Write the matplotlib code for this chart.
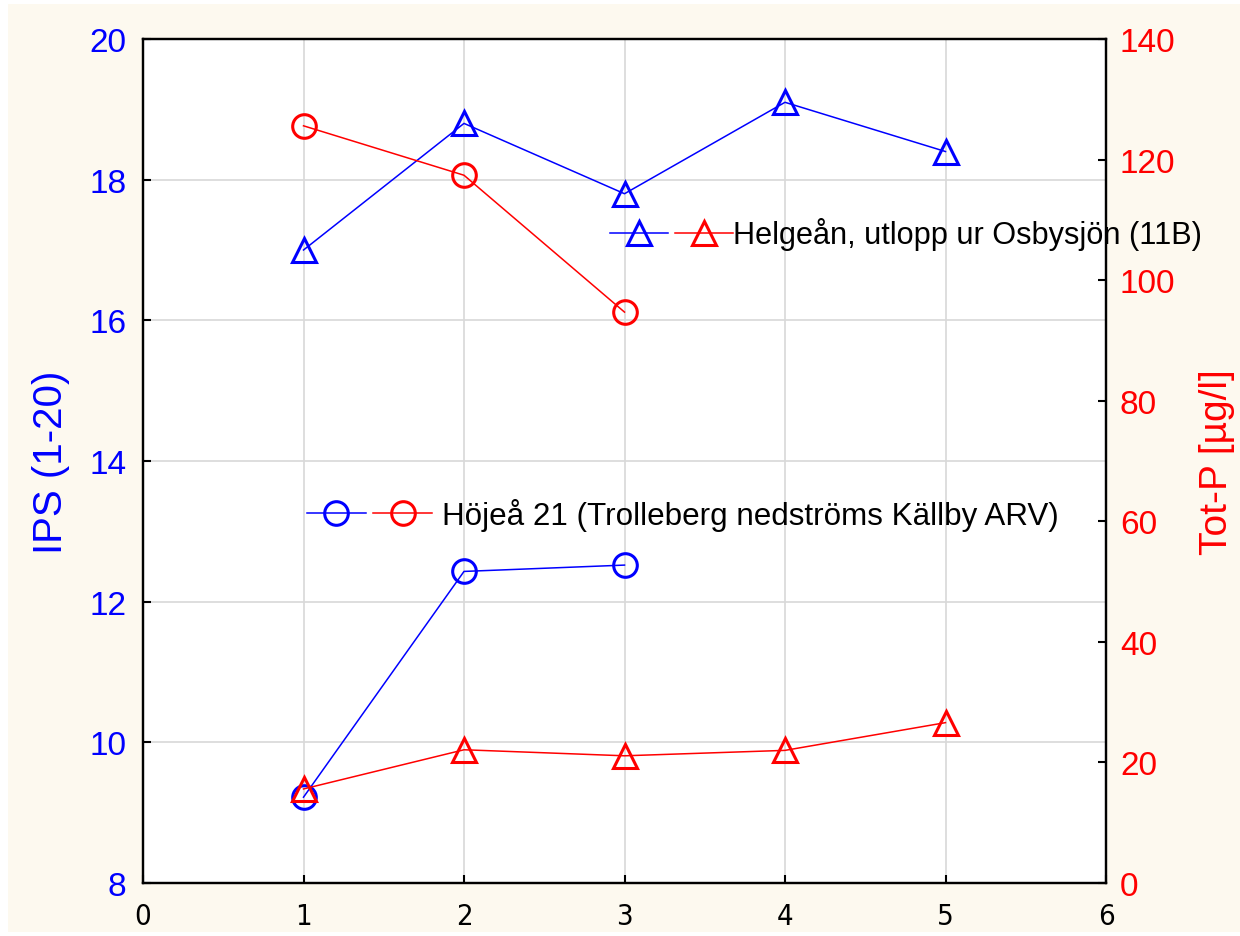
import matplotlib
matplotlib.use('Agg')
import matplotlib.pyplot as plt
from matplotlib.patches import Rectangle
from matplotlib.legend_handler import HandlerTuple

plt.rcParams['font.family'] = ['Liberation Sans', 'DejaVu Sans']

# data
x_helge = [1, 2, 3, 4, 5]
ips_helge = [17.0, 18.8, 17.8, 19.1, 18.4]
totp_helge = [15.6, 22.1, 21.1, 22.0, 26.6]

x_hoje = [1, 2, 3]
ips_hoje = [9.22, 12.43, 12.52]
totp_hoje = [125.6, 117.4, 94.7]

label_helge = 'Helgeån, utlopp ur Osbysjön (11B)'
label_hoje = 'Höjeå 21 (Trolleberg nedströms Källby ARV)'

fig = plt.figure(figsize=(12.4, 9.37), dpi=100, facecolor='white')
fig.patches.append(Rectangle((8 / 1240, 4 / 937), 1 - 8 / 1240, 1 - 9 / 937,
                             transform=fig.transFigure, facecolor='#fdf9ef',
                             edgecolor='none', zorder=-10))
ax1 = fig.add_axes([143 / 1240, 53 / 937, 963 / 1240, 844 / 937])
ax2 = ax1.twinx()

ms = 17
lw = 1.1
b1, = ax1.plot(x_helge, ips_helge, color='blue', lw=lw, marker='^', ms=ms,
               mfc='none', mew=2.2)
b2, = ax1.plot(x_hoje, ips_hoje, color='blue', lw=lw, marker='o', ms=ms,
               mfc='none', mew=2.2)
r1, = ax2.plot(x_helge, totp_helge, color='red', lw=lw, marker='^', ms=ms,
               mfc='none', mew=2.2)
r2, = ax2.plot(x_hoje, totp_hoje, color='red', lw=lw, marker='o', ms=ms,
               mfc='none', mew=2.2)

ax1.set_xlim(0, 6)
ax1.set_ylim(8, 20)
ax2.set_ylim(0, 140)
ax1.set_xticks(range(0, 7))
ax1.set_yticks(range(8, 21, 2))
ax2.set_yticks(range(0, 141, 20))
ax1.grid(True, color='#d8d8d8', lw=1.2)
ax1.set_axisbelow(True)

for a in (ax1, ax2):
    for s in a.spines.values():
        s.set_linewidth(1.6)
ax1.tick_params(axis='y', direction='in', length=6, width=1.5, labelsize=24,
                labelcolor='blue', pad=12)
ax2.tick_params(axis='y', direction='in', length=6, width=1.5, labelsize=24,
                labelcolor='red', pad=10)
ax1.tick_params(axis='x', direction='in', length=6, width=1.5, pad=14)
for t in ax1.get_xticklabels():
    t.set_family(['Liberation Sans Narrow', 'DejaVu Sans'])
    t.set_stretch('condensed')
    t.set_fontsize(21)

ax1.set_ylabel('IPS (1-20)', color='blue', fontsize=29, labelpad=14)
ax2.set_ylabel('Tot-P [µg/l]', color='red', fontsize=28, labelpad=17)

hm = {tuple: HandlerTuple(ndivide=None, pad=0.25)}
leg1 = ax2.legend([(b1, r1)], [label_helge], handler_map=hm, loc='center left',
                  bbox_to_anchor=(0.485, 0.769), frameon=False, fontsize=22.1,
                  handlelength=4.0, handletextpad=0.0, borderpad=0,
                  borderaxespad=0)
ax2.add_artist(leg1)
ax2.legend([(b2, r2)], [label_hoje], handler_map=hm, loc='center left',
           bbox_to_anchor=(0.17, 0.437), frameon=False, fontsize=22.6,
           handlelength=4.0, handletextpad=0.3, borderpad=0, borderaxespad=0)

plt.savefig('out.png', dpi=100, facecolor=fig.get_facecolor())
